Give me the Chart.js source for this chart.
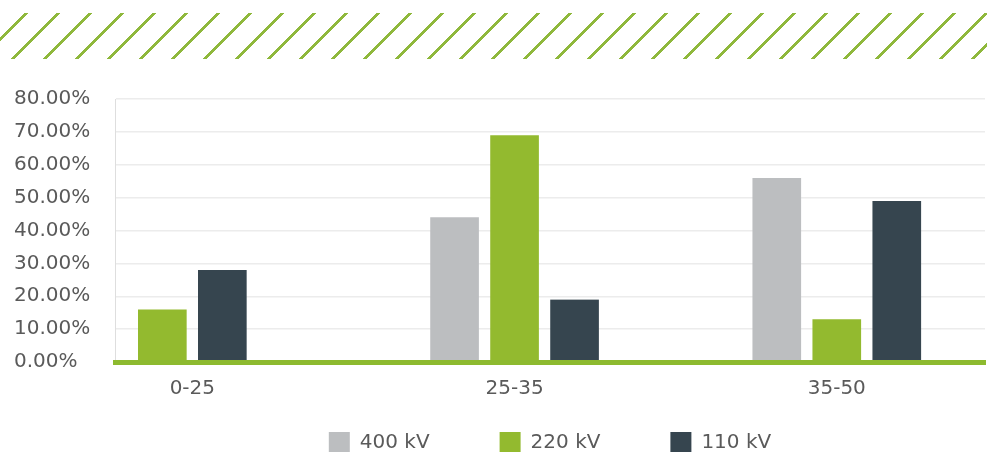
<!DOCTYPE html>
<html lang="en">
<head>
  <meta charset="UTF-8" />
  <title>Voltage levels by age</title>
  <script src="https://cdn.jsdelivr.net/npm/chart.js"></script>
  <style>
    body { margin: 0; background: #fff; }
    #wrap { position: relative; width: 987px; height: 452px; overflow: hidden; }
    /* decorative stripe band above the chart */
    #stripes {
      position: absolute; left: 0; right: 0; top: 13px; height: 46px;
      background: repeating-linear-gradient(135deg, transparent 0 17px, #8fb83c 17px 19.8px, transparent 19.8px 22.63px);
    }
  </style>
</head>
<body>
  <div id="wrap">
    <div id="stripes"></div>
    <canvas id="ageChart"></canvas>
  </div>

  <script>
    // data
    const categories = ['0-25', '25-35', '35-50'];
    const kv400 = [null, 44, 56];
    const kv220 = [16, 69, 13];
    const kv110 = [28, 19, 49];

    const font = { family: 'DejaVu Sans', size: 20 };
    const textColor = '#5a5a5a';

    function points(values) {
      return categories.map((c, i) => ({ x: i, y: values[i] }));
    }

    new Chart(document.getElementById('ageChart'), {
      type: 'bar',
      data: {
        datasets: [
          { label: '400 kV', data: points(kv400), backgroundColor: '#bcbec0' },
          { label: '220 kV', data: points(kv220), backgroundColor: '#93ba2f' },
          { label: '110 kV', data: points(kv110), backgroundColor: '#36454f' }
        ]
      },
      options: {
        responsive: true,
        maintainAspectRatio: false,
        animation: false,
        layout: { padding: { left: 14, right: 2, top: 99, bottom: -11 } },
        datasets: {
          bar: {
            barThickness: 60,
            skipNull: true,
            borderColor: 'rgba(0,0,0,0)',
            borderWidth: { left: 6, right: 6, top: 0, bottom: 0 },
            borderSkipped: 'bottom'
          }
        },
        plugins: {
          tooltip: { enabled: false },
          legend: {
            position: 'bottom',
            fullSize: false,
            labels: { boxWidth: 21, boxHeight: 21, padding: 70, font: font, color: textColor }
          }
        },
        scales: {
          x: {
            type: 'linear',
            min: -0.24,
            max: 2.46,
            bounds: 'data',
            offset: false,
            grid: { display: false, offset: false },
            border: { color: '#8dba2f', width: 5, z: 1 },
            // one tick per category
            afterBuildTicks: (scale) => {
              scale.ticks = categories.map((c, i) => ({ value: i }));
            },
            ticks: {
              autoSkip: false,
              maxRotation: 0,
              mirror: true,
              padding: -39,
              font: font,
              color: textColor,
              callback: (v) => categories[v] ?? ''
            },
            afterFit: (scale) => {
              scale.height = 0;
              scale.paddingLeft = 0;
              scale.paddingRight = 0;
            }
          },
          y: {
            min: 0,
            max: 80,
            grid: { color: '#ececec', lineWidth: 1.5, drawTicks: false },
            border: { color: '#dedede', width: 1 },
            ticks: {
              stepSize: 10,
              crossAlign: 'far',
              font: font,
              color: textColor,
              callback: (v) => v.toFixed(2) + '%'
            },
            afterFit: (scale) => { scale.width = 101; }
          }
        }
      }
    });
  </script>
</body>
</html>
